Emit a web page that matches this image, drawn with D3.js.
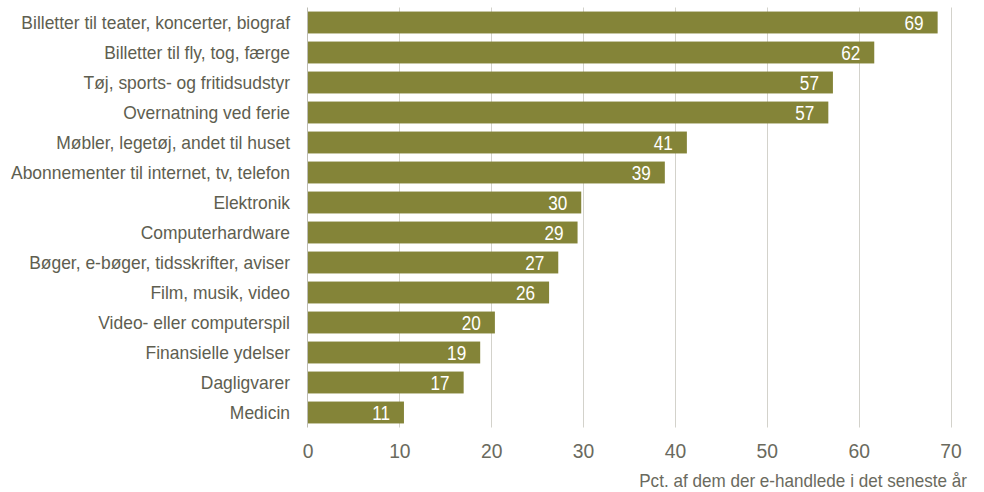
<!DOCTYPE html>
<html><head><meta charset="utf-8">
<script src="https://cdn.jsdelivr.net/npm/d3@7"></script>
<style>
body{margin:0;background:#fff;}
text{font-family:"Liberation Sans",Arial,sans-serif;}
</style></head>
<body><svg id="c" width="984" height="492"></svg>
<script>
const categories = ["Billetter til teater, koncerter, biograf","Billetter til fly, tog, færge","Tøj, sports- og fritidsudstyr","Overnatning ved ferie","Møbler, legetøj, andet til huset","Abonnementer til internet, tv, telefon","Elektronik","Computerhardware","Bøger, e-bøger, tidsskrifter, aviser","Film, musik, video","Video- eller computerspil","Finansielle ydelser","Dagligvarer","Medicin"];
const values = [68.6,61.7,57.2,56.7,41.3,38.9,29.8,29.4,27.3,26.3,20.4,18.8,17.0,10.5];
const tickValues = [0,10,20,30,40,50,60,70];
const axisTitle = "Pct. af dem der e-handlede i det seneste år";

const svg = d3.select("#c");
const x = d3.scaleLinear().domain([0,70]).range([307.5,950.5]);
const y = d3.scaleBand().domain(categories).range([7.5,427.5]).paddingInner(0.27).paddingOuter(0.135);

const grid = svg.append("g");
grid.selectAll("line").data(tickValues.filter(d=>d>0)).join("line")
  .attr("x1",d=>Math.round(x(d))+0.5).attr("x2",d=>Math.round(x(d))+0.5)
  .attr("y1",7.5).attr("y2",427.5).attr("stroke","#d3d2cb").attr("stroke-width",1);

svg.append("g").selectAll("rect").data(values).join("rect")
  .attr("x",x(0)).attr("y",(d,i)=>y(categories[i]))
  .attr("width",d=>x(d)-x(0)).attr("height",y.bandwidth())
  .attr("fill","#848438");

svg.append("line").attr("x1",307.5).attr("x2",307.5).attr("y1",7.5).attr("y2",427.5)
  .attr("stroke","#bdbcb4").attr("stroke-width",1);

svg.append("g").selectAll("text").data(values).join("text")
  .attr("transform",(d,i)=>`translate(${x(d)-14},${y(categories[i])+y.bandwidth()/2}) scale(0.88,1)`)
  .attr("dy","0.36em").attr("text-anchor","end").attr("fill","#fff")
  .attr("font-size",19.5).text(d=>Math.round(d));

svg.append("g").selectAll("text").data(categories).join("text")
  .attr("transform",d=>`translate(290,${y(d)+y.bandwidth()/2}) scale(0.97,1)`)
  .attr("dy","0.36em").attr("text-anchor","end").attr("fill","#5e5e50")
  .attr("font-size",18).text(d=>d);

const ax = svg.append("g").attr("transform","translate(0,427.5)")
  .call(d3.axisBottom(x).tickValues(tickValues).tickSize(0).tickPadding(16));
ax.select(".domain").remove();
ax.selectAll("text").attr("font-size",21).attr("fill","#6a6a5e").attr("transform","scale(0.92,1)")
  .style("font-family",'"Liberation Sans",Arial,sans-serif');

svg.append("text").attr("transform","translate(967,487) scale(0.95,1)").attr("text-anchor","end")
  .attr("fill","#6a6a5e").attr("font-size",18).text(axisTitle);
</script></body></html>
